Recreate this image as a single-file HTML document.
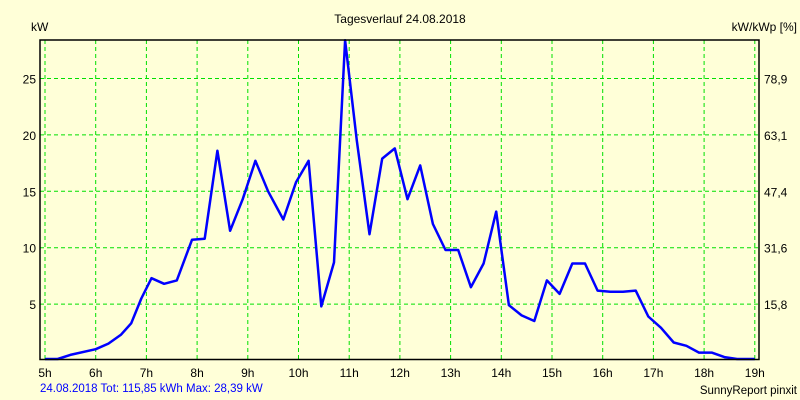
<!DOCTYPE html>
<html><head><meta charset="utf-8"><style>
body{margin:0;background:#ffffd8;}
svg{display:block;font-family:"Liberation Sans",sans-serif;font-size:12px;}
</style></head><body>
<svg width="800" height="400">
<rect width="800" height="400" fill="#ffffd8"/>
<g id="grid"></g>
<g id="labels"></g>
<text x="400" y="23" text-anchor="middle" fill="#000">Tagesverlauf 24.08.2018</text>
<text x="31" y="31" fill="#000">kW</text>
<text x="797" y="31" text-anchor="end" fill="#000">kW/kWp [%]</text>
<text x="40" y="392" fill="#0000ff" font-size="11.5">24.08.2018 Tot: 115,85 kWh Max: 28,39 kW</text>
<text x="797" y="394" text-anchor="end" fill="#000" font-size="11.5">SunnyReport pinxit</text>
<polyline id="line" fill="none" stroke="#0000ff" stroke-width="2.5" stroke-linejoin="round"/>
<rect x="40" y="40" width="719" height="319.5" fill="none" stroke="#000" stroke-width="1.5"/>
</svg>
<script>
const hours=[5,5.25,5.5,6,6.25,6.5,6.7,6.9,7.1,7.35,7.6,7.9,8.15,8.4,8.65,8.9,9.15,9.4,9.7,9.95,10.2,10.45,10.7,10.92,11.15,11.4,11.65,11.9,12.15,12.4,12.65,12.9,13.15,13.4,13.65,13.9,14.15,14.4,14.65,14.9,15.15,15.4,15.65,15.9,16.15,16.4,16.65,16.9,17.15,17.4,17.65,17.9,18.15,18.4,18.65,19];
const power=[0,0.1,0.5,1.0,1.5,2.3,3.3,5.5,7.3,6.8,7.1,10.7,10.8,18.6,11.5,14.3,17.7,15.0,12.5,15.8,17.7,4.8,8.7,28.39,19.5,11.2,17.9,18.8,14.3,17.3,12.1,9.8,9.8,6.5,8.6,13.2,4.9,4.0,3.5,7.1,5.9,8.6,8.6,6.2,6.1,6.1,6.2,3.9,2.9,1.6,1.3,0.7,0.7,0.3,0.05,0];
const xTicks=[5,6,7,8,9,10,11,12,13,14,15,16,17,18,19];
const yTicks=[5,10,15,20,25];
const y2Labels=["15,8","31,6","47,4","63,1","78,9"];
const X=h=>45+(h-5)*50.7, Y=v=>360.5-v*11.28;
const NS="http://www.w3.org/2000/svg";
const g=document.getElementById('grid'), L=document.getElementById('labels');
function mk(p,t,a){const e=document.createElementNS(NS,t);for(const k in a)e.setAttribute(k,a[k]);p.appendChild(e);return e;}
xTicks.forEach(h=>{
 const l=mk(g,'line',{x1:X(h),x2:X(h),y1:40,y2:359,stroke:'#00e000','stroke-dasharray':'4,3'});
 
 
 const t=mk(L,'text',{x:X(h),y:377,'text-anchor':'middle',fill:'#000'});t.textContent=h+'h';
 
 
});
yTicks.forEach((v,i)=>{
 const l=mk(g,'line',{x1:40,x2:759,y1:Y(v),y2:Y(v),stroke:'#00e000','stroke-dasharray':'4,3'});
 
 
 const t=mk(L,'text',{x:36,y:Y(v)+5,'text-anchor':'end',fill:'#000'});t.textContent=v;
 
 
 const t2=mk(L,'text',{x:764,y:Y(v)+5,fill:'#000'});t2.textContent=y2Labels[i];
 
 
});
document.getElementById('line').setAttribute('points',hours.map((h,i)=>X(h).toFixed(1)+','+Math.min(359,Y(power[i])).toFixed(1)).join(' '));
</script>
</body></html>
